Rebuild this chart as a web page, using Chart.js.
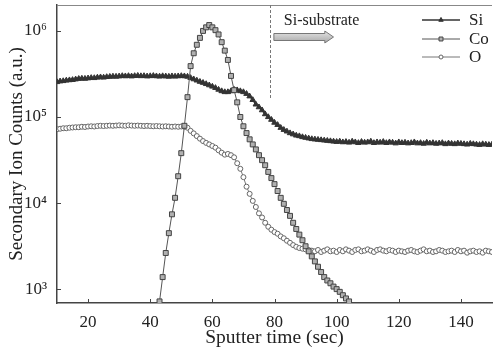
<!DOCTYPE html>
<html>
<head>
<meta charset="utf-8">
<script src="https://cdn.jsdelivr.net/npm/chart.js"></script>
<style>
  body { margin: 0; background: #fff; }
  canvas { display: block; }
</style>
</head>
<body>
<canvas id="sims" width="497" height="356"></canvas>
<script>
// sputter time (sec), one sample per second
var seconds = [
  10, 11, 12, 13, 14, 15, 16, 17, 18, 19, 20, 21, 22, 23, 24, 25, 26, 27, 28, 29,
  30, 31, 32, 33, 34, 35, 36, 37, 38, 39, 40, 41, 42, 43, 44, 45, 46, 47, 48, 49,
  50, 51, 52, 53, 54, 55, 56, 57, 58, 59, 60, 61, 62, 63, 64, 65, 66, 67, 68, 69,
  70, 71, 72, 73, 74, 75, 76, 77, 78, 79, 80, 81, 82, 83, 84, 85, 86, 87, 88, 89,
  90, 91, 92, 93, 94, 95, 96, 97, 98, 99, 100, 101, 102, 103, 104, 105, 106, 107, 108, 109,
  110, 111, 112, 113, 114, 115, 116, 117, 118, 119, 120, 121, 122, 123, 124, 125, 126, 127, 128, 129,
  130, 131, 132, 133, 134, 135, 136, 137, 138, 139, 140, 141, 142, 143, 144, 145, 146, 147, 148, 149,
  150
];

var siCounts = [
  2.55e5, 2.6e5, 2.62e5, 2.66e5, 2.68e5, 2.7e5, 2.74e5, 2.78e5, 2.8e5, 2.79e5,
  2.82e5, 2.85e5, 2.84e5, 2.88e5, 2.9e5, 2.88e5, 2.92e5, 2.94e5, 2.96e5, 2.95e5,
  2.97e5, 3.0e5, 2.98e5, 3.0e5, 2.97e5, 3.0e5, 3.02e5, 2.99e5, 3.0e5, 2.97e5,
  2.99e5, 3.01e5, 2.98e5, 2.96e5, 2.99e5, 2.97e5, 2.95e5, 2.98e5, 2.96e5, 2.98e5,
  3.0e5, 2.98e5, 2.95e5, 2.85e5, 2.75e5, 2.66e5, 2.57e5, 2.5e5, 2.42e5, 2.34e5,
  2.26e5, 2.18e5, 2.08e5, 2.0e5, 1.95e5, 1.95e5, 2.0e5, 2.08e5, 2.05e5, 2.0e5,
  1.95e5, 1.86e5, 1.74e5, 1.58e5, 1.4e5, 1.3e5, 1.2e5, 1.08e5, 1.0e5, 9.3e4,
  8.6e4, 8.1e4, 7.5e4, 7.1e4, 6.8e4, 6.5e4, 6.3e4, 6.1e4, 6.0e4, 5.85e4,
  5.75e4, 5.65e4, 5.55e4, 5.5e4, 5.45e4, 5.4e4, 5.35e4, 5.3e4, 5.25e4, 5.2e4,
  5.15e4, 5.2e4, 5.1e4, 5.15e4, 5.05e4, 5.2e4, 5.1e4, 5.0e4, 5.15e4, 5.05e4,
  5.1e4, 5.2e4, 5.0e4, 5.1e4, 5.05e4, 5.15e4, 5.0e4, 5.1e4, 5.05e4, 4.95e4,
  5.1e4, 5.0e4, 5.05e4, 4.95e4, 5.0e4, 5.1e4, 4.95e4, 5.0e4, 4.9e4, 5.05e4,
  4.95e4, 5.0e4, 4.9e4, 4.95e4, 5.0e4, 4.85e4, 4.95e4, 4.9e4, 4.85e4, 4.95e4,
  4.9e4, 4.85e4, 4.8e4, 4.9e4, 4.85e4, 4.8e4, 4.75e4, 4.85e4, 4.8e4, 4.75e4,
  4.8e4
];

// Co only shows up between 43 s and 104 s
var coStartIndex = 33;
var coCounts = [
  720, 1380, 2630, 4470, 7400, 1.15e4, 2.05e4, 3.8e4, 7.9e4, 1.7e5,
  3.9e5, 5.5e5, 6.9e5, 8.3e5, 1.0e6, 1.1e6, 1.17e6, 1.1e6, 1.02e6, 9.1e5,
  7.4e5, 5.9e5, 4.6e5, 3.0e5, 2.05e5, 1.48e5, 1.0e5, 7.8e4, 6.5e4, 5.5e4,
  4.8e4, 4.2e4, 3.6e4, 3.15e4, 2.75e4, 2.3e4, 1.95e4, 1.66e4, 1.38e4, 1.15e4,
  9.8e3, 8.3e3, 7.1e3, 5.9e3, 5.0e3, 4.3e3, 3.7e3, 3.15e3, 2.75e3, 2.4e3,
  2.1e3, 1.82e3, 1.58e3, 1.38e3, 1.26e3, 1.17e3, 1.07e3, 1.0e3, 930, 850,
  780, 720
];

var oCounts = [
  7.2e4, 7.3e4, 7.4e4, 7.4e4, 7.5e4, 7.55e4, 7.6e4, 7.6e4, 7.7e4, 7.65e4,
  7.75e4, 7.8e4, 7.75e4, 7.85e4, 7.9e4, 7.85e4, 7.9e4, 7.95e4, 7.9e4, 7.95e4,
  8.0e4, 7.95e4, 7.9e4, 8.0e4, 7.95e4, 7.9e4, 7.95e4, 7.9e4, 7.85e4, 7.9e4,
  7.85e4, 7.8e4, 7.85e4, 7.8e4, 7.75e4, 7.8e4, 7.75e4, 7.7e4, 7.75e4, 7.7e4,
  7.75e4, 7.7e4, 7.5e4, 6.9e4, 6.45e4, 6.0e4, 5.6e4, 5.25e4, 5.0e4, 4.8e4,
  4.6e4, 4.4e4, 4.1e4, 3.85e4, 3.65e4, 3.72e4, 3.6e4, 3.4e4, 2.9e4, 2.5e4,
  2.0e4, 1.55e4, 1.28e4, 1.06e4, 9.0e3, 7.6e3, 6.8e3, 5.9e3, 5.3e3, 4.9e3,
  4.6e3, 4.4e3, 4.1e3, 3.9e3, 3.65e3, 3.45e3, 3.25e3, 3.1e3, 3.0e3, 2.95e3,
  2.9e3, 2.85e3, 2.8e3, 2.75e3, 2.85e3, 2.7e3, 2.8e3, 2.9e3, 2.75e3, 2.8e3,
  2.7e3, 2.85e3, 2.75e3, 2.9e3, 2.8e3, 2.7e3, 2.85e3, 2.9e3, 2.75e3, 2.8e3,
  2.9e3, 2.8e3, 2.7e3, 2.85e3, 2.9e3, 2.8e3, 2.75e3, 2.85e3, 2.8e3, 2.7e3,
  2.8e3, 2.75e3, 2.7e3, 2.8e3, 2.85e3, 2.75e3, 2.7e3, 2.8e3, 2.9e3, 2.75e3,
  2.8e3, 2.7e3, 2.75e3, 2.85e3, 2.8e3, 2.7e3, 2.75e3, 2.8e3, 2.7e3, 2.85e3,
  2.75e3, 2.8e3, 2.65e3, 2.75e3, 2.8e3, 2.7e3, 2.75e3, 2.65e3, 2.8e3, 2.75e3,
  2.7e3
];

var xTicks = [20, 40, 60, 80, 100, 120, 140];
var yTicks = [1e3, 1e4, 1e5, 1e6];
var yTickLabels = ['10³', '10⁴', '10⁵', '10⁶'];
var substrateStart = 78.7;

var serif = "'Liberation Serif', 'Times New Roman', serif";
var ink = '#222';

function pairs(times, counts) {
  return counts.map(function (c, i) { return { x: times[i], y: c }; });
}

var coTimes = seconds.slice(coStartIndex, coStartIndex + coCounts.length);

var datasets = [
  {
    label: 'Si',
    data: pairs(seconds, siCounts),
    borderColor: '#333',
    borderWidth: 1.5,
    pointStyle: 'triangle',
    pointRadius: 3.2,
    pointBackgroundColor: '#333',
    pointBorderColor: '#333',
    pointBorderWidth: 1,
    order: 1
  },
  {
    label: 'Co',
    data: pairs(coTimes, coCounts),
    borderColor: '#555',
    borderWidth: 1,
    pointStyle: 'rect',
    pointRadius: 3.5,
    pointBackgroundColor: '#b0b0b0',
    pointBorderColor: '#444',
    pointBorderWidth: 1,
    order: 0
  },
  {
    label: 'O',
    data: pairs(seconds, oCounts),
    borderColor: '#777',
    borderWidth: 1,
    pointStyle: 'circle',
    pointRadius: 2.5,
    pointBackgroundColor: '#fff',
    pointBorderColor: '#666',
    pointBorderWidth: 1,
    order: 2
  }
];

// inward ticks, frame, substrate marker, arrow and legend
var decor = {
  id: 'decor',
  afterDraw: function (chart) {
    var ctx = chart.ctx, a = chart.chartArea;
    var xs = chart.scales.x, ys = chart.scales.y;
    ctx.save();

    ctx.strokeStyle = '#444';
    ctx.lineWidth = 1;
    xs.ticks.forEach(function (t) {
      var px = Math.round(xs.getPixelForValue(t.value)) + 0.5;
      ctx.beginPath(); ctx.moveTo(px, a.bottom); ctx.lineTo(px, a.bottom - 4); ctx.stroke();
    });
    ys.ticks.forEach(function (t) {
      var py = Math.round(ys.getPixelForValue(t.value)) + 0.5;
      ctx.beginPath(); ctx.moveTo(a.left, py); ctx.lineTo(a.left + 4, py); ctx.stroke();
    });

    ctx.strokeStyle = '#888';
    ctx.beginPath(); ctx.moveTo(a.left, a.top + 0.5); ctx.lineTo(a.right, a.top + 0.5); ctx.stroke();

    // substrate boundary
    var bx = Math.round(xs.getPixelForValue(substrateStart)) + 0.5;
    ctx.strokeStyle = '#777';
    ctx.setLineDash([3, 2]);
    ctx.beginPath(); ctx.moveTo(bx, a.top); ctx.lineTo(bx, ys.getPixelForValue(1.6e5)); ctx.stroke();
    ctx.setLineDash([]);

    ctx.font = '16px ' + serif;
    ctx.fillStyle = ink;
    ctx.textBaseline = 'middle';
    ctx.textAlign = 'left';
    ctx.fillText('Si-substrate', xs.getPixelForValue(83), a.top + 16);

    // block arrow
    var x0 = xs.getPixelForValue(79.8), x1 = xs.getPixelForValue(96.2), x2 = xs.getPixelForValue(99);
    var cy = a.top + 32;
    var g = ctx.createLinearGradient(0, cy - 6, 0, cy + 6);
    g.addColorStop(0, '#e4e4e4');
    g.addColorStop(1, '#a8a8a8');
    ctx.fillStyle = g;
    ctx.strokeStyle = '#777';
    ctx.beginPath();
    ctx.moveTo(x0, cy - 3.5);
    ctx.lineTo(x1, cy - 3.5);
    ctx.lineTo(x1, cy - 6);
    ctx.lineTo(x2, cy);
    ctx.lineTo(x1, cy + 6);
    ctx.lineTo(x1, cy + 3.5);
    ctx.lineTo(x0, cy + 3.5);
    ctx.closePath();
    ctx.fill(); ctx.stroke();

    // legend
    var lx0 = 422, lx1 = 460, ly = [a.top + 15, a.top + 34, a.top + 52];
    chart.data.datasets.forEach(function (ds, i) {
      ctx.strokeStyle = ds.borderColor;
      ctx.lineWidth = ds.borderWidth;
      ctx.beginPath(); ctx.moveTo(lx0, ly[i]); ctx.lineTo(lx1, ly[i]); ctx.stroke();
      ctx.fillStyle = ds.pointBackgroundColor;
      ctx.strokeStyle = ds.pointBorderColor;
      ctx.lineWidth = ds.pointBorderWidth;
      Chart.helpers.drawPoint(ctx, { pointStyle: ds.pointStyle, radius: ds.pointRadius * 0.8, rotation: 0, borderWidth: 1 }, (lx0 + lx1) / 2, ly[i]);
      ctx.fillStyle = ink;
      ctx.font = '17px ' + serif;
      ctx.fillText(ds.label, 469, ly[i] + 1);
    });

    ctx.restore();
  }
};

new Chart(document.getElementById('sims'), {
  type: 'line',
  data: { datasets: datasets },
  options: {
    responsive: false,
    animation: false,
    layout: { padding: { top: 1, right: 0, bottom: 0, left: 0 } },
    plugins: { legend: { display: false }, tooltip: { enabled: false } },
    scales: {
      x: {
        type: 'linear',
        min: 10,
        max: 150,
        afterBuildTicks: function (s) { s.ticks = xTicks.map(function (v) { return { value: v }; }); },
        afterFit: function (s) { s.height = 53; s.paddingLeft = 0; s.paddingRight = 0; },
        grid: { display: false, drawTicks: false },
        border: { display: true, color: '#444', width: 1.5 },
        ticks: { color: ink, font: { family: serif, size: 17 }, padding: 9, maxRotation: 0 },
        title: { display: true, text: 'Sputter time (sec)', color: ink, font: { family: serif, size: 19.5 }, padding: { top: 0, bottom: 6 } }
      },
      y: {
        type: 'logarithmic',
        min: 690,
        max: 2e6,
        afterBuildTicks: function (s) { s.ticks = yTicks.map(function (v) { return { value: v }; }); },
        afterFit: function (s) { s.width = 57; s.paddingTop = 0; s.paddingBottom = 0; },
        grid: { display: false, drawTicks: false },
        border: { display: true, color: '#444', width: 1.5 },
        ticks: {
          color: ink,
          font: { family: serif, size: 17 },
          padding: 10,
          callback: function (v) { var i = yTicks.indexOf(v); return i >= 0 ? yTickLabels[i] : ''; }
        },
        title: { display: true, text: 'Secondary Ion Counts (a.u.)', color: ink, font: { family: serif, size: 19 }, padding: { top: 6, bottom: 0 } }
      }
    }
  },
  plugins: [decor]
});
</script>
</body>
</html>
